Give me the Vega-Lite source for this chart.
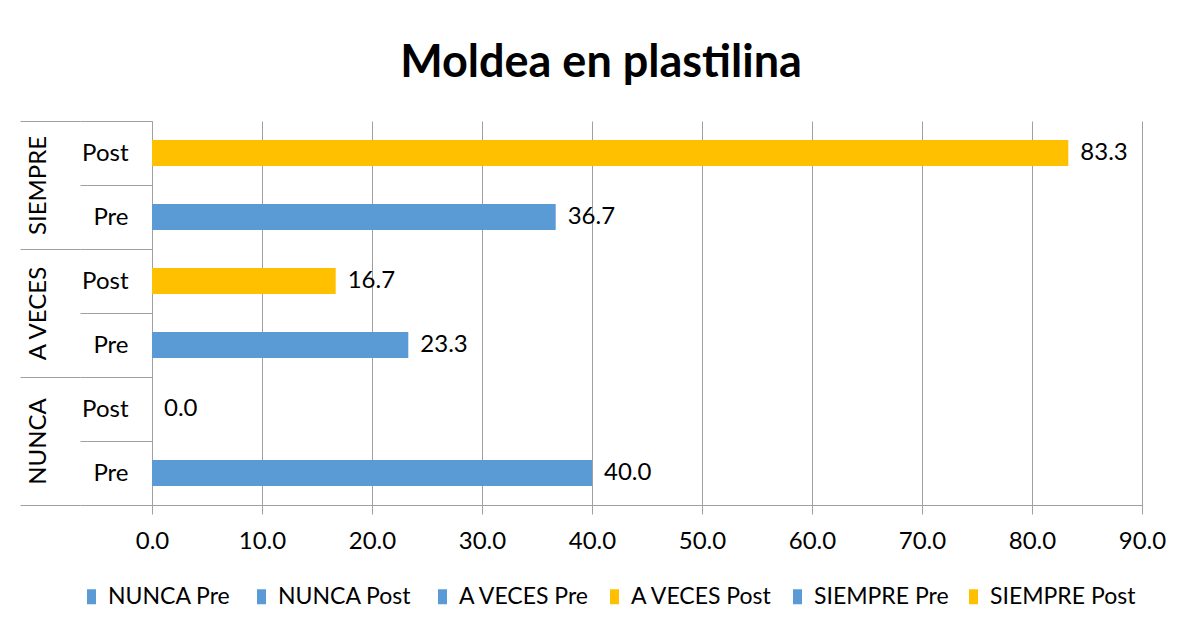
{
  "$schema": "https://vega.github.io/schema/vega-lite/v6.json",
  "width": 990,
  "height": 384,
  "autosize": {"type": "none"},
  "padding": {"left": 152, "top": 121, "right": 44, "bottom": 127},
  "background": "white",
  "title": {
    "text": "Moldea en plastilina",
    "font": "Lato",
    "fontSize": 45,
    "fontWeight": "bold",
    "color": "black",
    "anchor": "middle",
    "frame": "group",
    "dx": -46,
    "offset": 23
  },
  "data": {
    "values": [
      {"grupo": "NUNCA", "serie": "NUNCA  Pre", "valor": 40.0},
      {"grupo": "NUNCA", "serie": "NUNCA  Post", "valor": 0.0},
      {"grupo": "A VECES", "serie": "A VECES Pre", "valor": 23.3},
      {"grupo": "A VECES", "serie": "A VECES Post", "valor": 16.7},
      {"grupo": "SIEMPRE", "serie": "SIEMPRE Pre", "valor": 36.7},
      {"grupo": "SIEMPRE", "serie": "SIEMPRE Post", "valor": 83.3}
    ]
  },
  "encoding": {
    "y": {
      "field": "serie",
      "type": "nominal",
      "sort": ["SIEMPRE Post", "SIEMPRE Pre", "A VECES Post", "A VECES Pre", "NUNCA  Post", "NUNCA  Pre"],
      "scale": {"paddingInner": 0, "paddingOuter": 0}
    },
    "x": {
      "field": "valor",
      "type": "quantitative",
      "stack": null,
      "scale": {"domain": [0, 90], "nice": false},
      "axis": {
        "title": null,
        "values": [0, 10, 20, 30, 40, 50, 60, 70, 80, 90],
        "format": ".1f",
        "labelFont": "Lato",
        "labelFontSize": 24,
        "labelColor": "black",
        "labelPadding": 15,
        "tickSize": 9,
        "tickColor": "#A0A0A0",
        "domainColor": "#A0A0A0",
        "grid": true,
        "gridColor": "#A0A0A0",
        "labelFlush": false
      }
    }
  },
  "layer": [
    {
      "mark": {"type": "bar", "size": 26},
      "encoding": {
        "y": {
          "field": "serie",
          "type": "nominal",
          "sort": ["SIEMPRE Post", "SIEMPRE Pre", "A VECES Post", "A VECES Pre", "NUNCA  Post", "NUNCA  Pre"],
          "axis": {
            "orient": "left",
            "title": null,
            "labelExpr": "indexof(datum.label, 'Post') >= 0 ? 'Post' : (indexof(datum.label, 'Pre') >= 0 ? 'Pre' : '')",
            "labelFont": "Lato",
            "labelFontSize": 24,
            "labelColor": "black",
            "labelAlign": "right",
            "labelPadding": -48,
            "tickBand": "extent",
            "tickSize": 72,
            "tickColor": "#A0A0A0",
            "domainColor": "#A0A0A0",
            "grid": false
          }
        },
        "color": {
          "field": "serie",
          "type": "nominal",
          "scale": {
            "domain": ["NUNCA  Pre", "NUNCA  Post", "A VECES Pre", "A VECES Post", "SIEMPRE Pre", "SIEMPRE Post"],
            "range": ["#5B9BD5", "#5B9BD5", "#5B9BD5", "#FFC000", "#5B9BD5", "#FFC000"]
          },
          "legend": {
            "title": null,
            "orient": "none",
            "direction": "horizontal",
            "legendX": -72,
            "legendY": 464,
            "padding": 0,
            "labelFont": "Lato",
            "labelFontSize": 23,
            "labelColor": "black",
            "symbolType": "M-0.6,-1H0.6V1H-0.6Z",
            "symbolSize": 225,
            "symbolStrokeWidth": 0,
            "labelOffset": 5,
            "columnPadding": 13
          }
        }
      }
    },
    {
      "mark": {"type": "text", "align": "left", "baseline": "middle", "dx": 12, "font": "Lato", "fontSize": 24, "color": "black"},
      "encoding": {
        "y": {
          "field": "serie",
          "type": "nominal",
          "sort": ["SIEMPRE Post", "SIEMPRE Pre", "A VECES Post", "A VECES Pre", "NUNCA  Post", "NUNCA  Pre"],
          "axis": {
            "orient": "left",
            "offset": 72,
            "title": null,
            "domain": false,
            "labelExpr": "indexof(datum.label, 'Post') >= 0 ? trim(replace(datum.label, 'Post', '')) : ''",
            "labelFont": "Lato",
            "labelFontSize": 24,
            "labelColor": "black",
            "labelAngle": -90,
            "labelAlign": "center",
            "labelBaseline": "middle",
            "labelPadding": -18,
            "labelOffset": 32,
            "tickBand": "extent",
            "tickSize": 60,
            "tickColor": "#A0A0A0",
            "tickOpacity": {"condition": {"test": "isString(datum.value) && indexof(datum.value, 'Post') >= 0", "value": 0}, "value": 1},
            "grid": false
          }
        },
        "text": {"field": "valor", "type": "quantitative", "format": ".1f"}
      }
    }
  ],
  "resolve": {"axis": {"y": "independent"}},
  "config": {"view": {"stroke": null}}
}
